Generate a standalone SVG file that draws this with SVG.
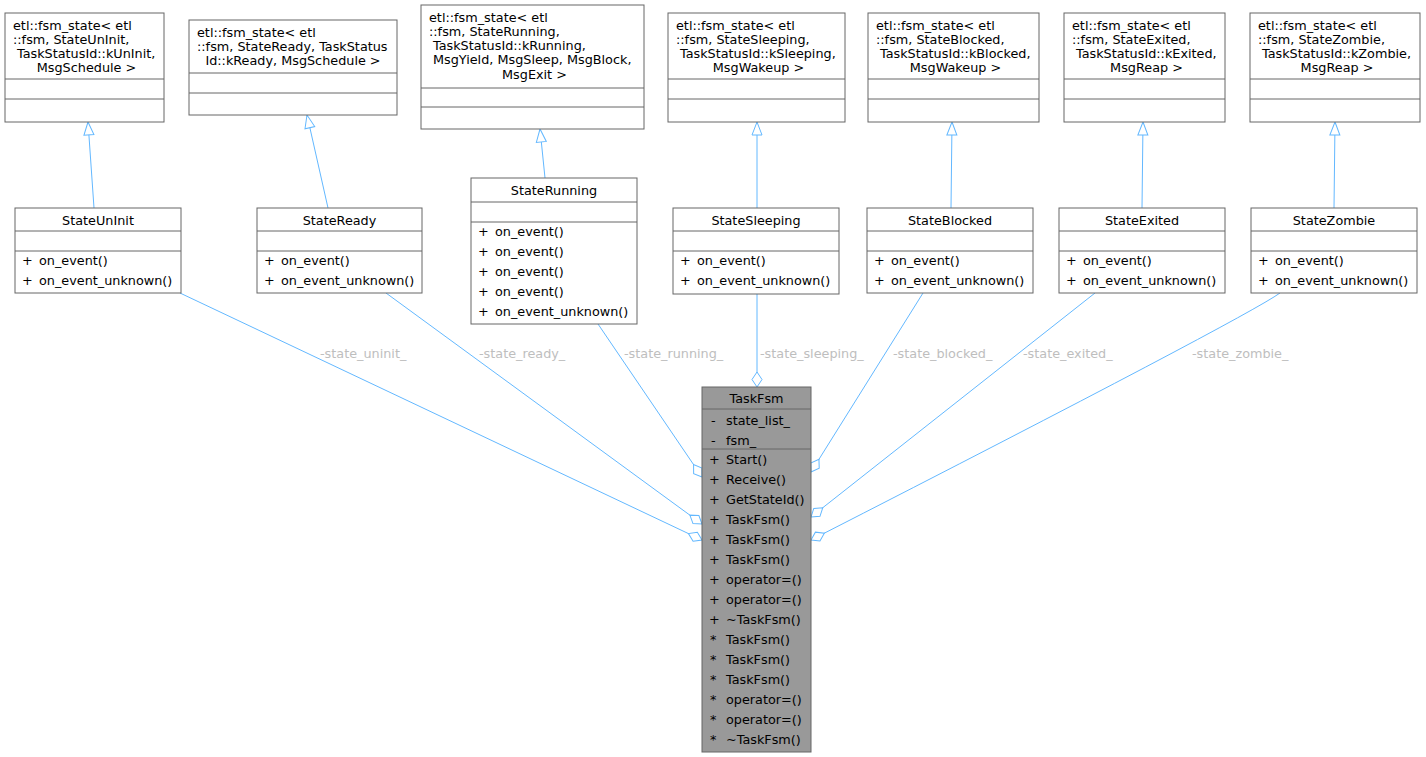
<svg xmlns="http://www.w3.org/2000/svg" width="1426" height="757" viewBox="0 0 1426 757">
<style>
text{font-family:"DejaVu Sans","Liberation Sans",sans-serif;font-size:12.8px;fill:#000}
.box{fill:#fff;stroke:#666;stroke-width:1}
.main{fill:#999;stroke:#666;stroke-width:1}
.sep{stroke:#666;stroke-width:1}
.c{text-anchor:middle}
.edge{fill:none;stroke:#63B8FF;stroke-width:1}
.inh{marker-end:url(#tri)}
.agg{marker-end:url(#dia)}
.lbl{fill:#BEBEBE}
</style>
<defs>
<marker id="tri" markerUnits="userSpaceOnUse" viewBox="-14 -6 15 12" markerWidth="15" markerHeight="12" refX="0" refY="0" orient="auto" overflow="visible">
<path d="M0,0 L-13,-5 L-13,5 Z" fill="#fff" stroke="#63B8FF" stroke-width="1"/>
</marker>
<marker id="dia" markerUnits="userSpaceOnUse" viewBox="-16 -6 17 12" markerWidth="17" markerHeight="12" refX="0" refY="0" orient="auto" overflow="visible">
<path d="M0,0 L-7.5,-5 L-15,0 L-7.5,5 Z" fill="#fff" stroke="#63B8FF" stroke-width="1"/>
</marker>
</defs>
<rect width="1426" height="757" fill="#fff"/>

<g id="connectors">
<path class="edge inh" d="M94,208 L88,122"/>
<path class="edge inh" d="M328,208 L307,115"/>
<path class="edge inh" d="M545,178 L540,129"/>
<path class="edge inh" d="M757,208 L757,122"/>
<path class="edge inh" d="M951,208 L952,122"/>
<path class="edge inh" d="M1142,208 L1143,122"/>
<path class="edge inh" d="M1334,208 L1335,122"/>
<path class="edge agg" d="M180,293 L702,540"/>
<path class="edge agg" d="M386,293 L702,524"/>
<path class="edge agg" d="M598,324 L702,477"/>
<path class="edge agg" d="M757,294 L757,387"/>
<path class="edge agg" d="M923,293 L811,472"/>
<path class="edge agg" d="M1095,293 L811,517"/>
<path class="edge agg" d="M1280,293 Q1245,318 811,540"/>
<text class="lbl" x="320" y="358">-state_uninit_</text>
<text class="lbl" x="479" y="358">-state_ready_</text>
<text class="lbl" x="624" y="358">-state_running_</text>
<text class="lbl" x="760" y="358">-state_sleeping_</text>
<text class="lbl" x="893" y="358">-state_blocked_</text>
<text class="lbl" x="1023" y="358">-state_exited_</text>
<text class="lbl" x="1192" y="358">-state_zombie_</text>
</g>

<g id="base_uninit">
<rect class="box" x="5" y="13" width="159" height="109"/>
<line class="sep" x1="5" y1="79" x2="164" y2="79"/>
<line class="sep" x1="5" y1="99" x2="164" y2="99"/>
<text x="13" y="29.5">etl::fsm_state&lt; etl</text>
<text x="13" y="43.8">::fsm, StateUnInit,</text>
<text x="17" y="58">TaskStatusId::kUnInit,</text>
<text class="c" x="86.5" y="72.3">MsgSchedule &gt;</text>
</g>

<g id="base_ready">
<rect class="box" x="189" y="20" width="208" height="95"/>
<line class="sep" x1="189" y1="73" x2="397" y2="73"/>
<line class="sep" x1="189" y1="93" x2="397" y2="93"/>
<text x="197" y="36.5">etl::fsm_state&lt; etl</text>
<text x="197" y="50.8">::fsm, StateReady, TaskStatus</text>
<text class="c" x="293" y="65">Id::kReady, MsgSchedule &gt;</text>
</g>

<g id="base_running">
<rect class="box" x="421" y="5" width="223" height="124"/>
<line class="sep" x1="421" y1="88" x2="644" y2="88"/>
<line class="sep" x1="421" y1="107" x2="644" y2="107"/>
<text x="429" y="21.5">etl::fsm_state&lt; etl</text>
<text x="429" y="35.8">::fsm, StateRunning,</text>
<text x="433" y="50">TaskStatusId::kRunning,</text>
<text x="433" y="64.3">MsgYield, MsgSleep, MsgBlock,</text>
<text class="c" x="534.5" y="78.6">MsgExit &gt;</text>
</g>

<g id="base_sleeping">
<rect class="box" x="668" y="13" width="177" height="109"/>
<line class="sep" x1="668" y1="79" x2="845" y2="79"/>
<line class="sep" x1="668" y1="99" x2="845" y2="99"/>
<text x="676" y="29.5">etl::fsm_state&lt; etl</text>
<text x="676" y="43.8">::fsm, StateSleeping,</text>
<text x="680" y="58">TaskStatusId::kSleeping,</text>
<text class="c" x="758.5" y="72.3">MsgWakeup &gt;</text>
</g>

<g id="base_blocked">
<rect class="box" x="868" y="13" width="171" height="109"/>
<line class="sep" x1="868" y1="79" x2="1039" y2="79"/>
<line class="sep" x1="868" y1="99" x2="1039" y2="99"/>
<text x="876" y="29.5">etl::fsm_state&lt; etl</text>
<text x="876" y="43.8">::fsm, StateBlocked,</text>
<text x="880" y="58">TaskStatusId::kBlocked,</text>
<text class="c" x="955.5" y="72.3">MsgWakeup &gt;</text>
</g>

<g id="base_exited">
<rect class="box" x="1064" y="13" width="161" height="109"/>
<line class="sep" x1="1064" y1="79" x2="1225" y2="79"/>
<line class="sep" x1="1064" y1="99" x2="1225" y2="99"/>
<text x="1072" y="29.5">etl::fsm_state&lt; etl</text>
<text x="1072" y="43.8">::fsm, StateExited,</text>
<text x="1076" y="58">TaskStatusId::kExited,</text>
<text class="c" x="1146.5" y="72.3">MsgReap &gt;</text>
</g>

<g id="base_zombie">
<rect class="box" x="1250" y="13" width="170" height="109"/>
<line class="sep" x1="1250" y1="79" x2="1420" y2="79"/>
<line class="sep" x1="1250" y1="99" x2="1420" y2="99"/>
<text x="1258" y="29.5">etl::fsm_state&lt; etl</text>
<text x="1258" y="43.8">::fsm, StateZombie,</text>
<text x="1262" y="58">TaskStatusId::kZombie,</text>
<text class="c" x="1337" y="72.3">MsgReap &gt;</text>
</g>

<g id="StateUnInit">
<rect class="box" x="15" y="208" width="166" height="85"/>
<line class="sep" x1="15" y1="231" x2="181" y2="231"/>
<line class="sep" x1="15" y1="251" x2="181" y2="251"/>
<text class="c" x="98" y="225">StateUnInit</text>
<text x="22" y="265">+</text><text x="39" y="265">on_event()</text>
<text x="22" y="285">+</text><text x="39" y="285">on_event_unknown()</text>
</g>

<g id="StateReady">
<rect class="box" x="257" y="208" width="165" height="85"/>
<line class="sep" x1="257" y1="231" x2="422" y2="231"/>
<line class="sep" x1="257" y1="251" x2="422" y2="251"/>
<text class="c" x="339.5" y="225">StateReady</text>
<text x="264" y="265">+</text><text x="281" y="265">on_event()</text>
<text x="264" y="285">+</text><text x="281" y="285">on_event_unknown()</text>
</g>

<g id="StateRunning">
<rect class="box" x="471" y="178" width="166" height="146"/>
<line class="sep" x1="471" y1="202" x2="637" y2="202"/>
<line class="sep" x1="471" y1="222" x2="637" y2="222"/>
<text class="c" x="554" y="195">StateRunning</text>
<text x="478" y="236">+</text><text x="495" y="236">on_event()</text>
<text x="478" y="256">+</text><text x="495" y="256">on_event()</text>
<text x="478" y="276">+</text><text x="495" y="276">on_event()</text>
<text x="478" y="296">+</text><text x="495" y="296">on_event()</text>
<text x="478" y="316">+</text><text x="495" y="316">on_event_unknown()</text>
</g>

<g id="StateSleeping">
<rect class="box" x="673" y="208" width="166" height="86"/>
<line class="sep" x1="673" y1="231" x2="839" y2="231"/>
<line class="sep" x1="673" y1="251" x2="839" y2="251"/>
<text class="c" x="756" y="225">StateSleeping</text>
<text x="680" y="265">+</text><text x="697" y="265">on_event()</text>
<text x="680" y="285">+</text><text x="697" y="285">on_event_unknown()</text>
</g>

<g id="StateBlocked">
<rect class="box" x="867" y="208" width="166" height="85"/>
<line class="sep" x1="867" y1="231" x2="1033" y2="231"/>
<line class="sep" x1="867" y1="251" x2="1033" y2="251"/>
<text class="c" x="950" y="225">StateBlocked</text>
<text x="874" y="265">+</text><text x="891" y="265">on_event()</text>
<text x="874" y="285">+</text><text x="891" y="285">on_event_unknown()</text>
</g>

<g id="StateExited">
<rect class="box" x="1059" y="208" width="166" height="85"/>
<line class="sep" x1="1059" y1="231" x2="1225" y2="231"/>
<line class="sep" x1="1059" y1="251" x2="1225" y2="251"/>
<text class="c" x="1142" y="225">StateExited</text>
<text x="1066" y="265">+</text><text x="1083" y="265">on_event()</text>
<text x="1066" y="285">+</text><text x="1083" y="285">on_event_unknown()</text>
</g>

<g id="StateZombie">
<rect class="box" x="1251" y="208" width="166" height="85"/>
<line class="sep" x1="1251" y1="231" x2="1417" y2="231"/>
<line class="sep" x1="1251" y1="251" x2="1417" y2="251"/>
<text class="c" x="1334" y="225">StateZombie</text>
<text x="1258" y="265">+</text><text x="1275" y="265">on_event()</text>
<text x="1258" y="285">+</text><text x="1275" y="285">on_event_unknown()</text>
</g>

<g id="TaskFsm">
<rect class="main" x="702" y="387" width="109" height="365"/>
<line class="sep" x1="702" y1="409" x2="811" y2="409"/>
<line class="sep" x1="702" y1="449" x2="811" y2="449"/>
<text class="c" x="756.5" y="402.5">TaskFsm</text>
<text x="711" y="424.5">-</text><text x="726" y="424.5">state_list_</text>
<text x="711" y="444.5">-</text><text x="726" y="444.5">fsm_</text>
<text x="709" y="463.5">+</text><text x="726" y="463.5">Start()</text>
<text x="709" y="483.5">+</text><text x="726" y="483.5">Receive()</text>
<text x="709" y="503.5">+</text><text x="726" y="503.5">GetStateId()</text>
<text x="709" y="523.5">+</text><text x="726" y="523.5">TaskFsm()</text>
<text x="709" y="543.5">+</text><text x="726" y="543.5">TaskFsm()</text>
<text x="709" y="563.5">+</text><text x="726" y="563.5">TaskFsm()</text>
<text x="709" y="583.5">+</text><text x="726" y="583.5">operator=()</text>
<text x="709" y="603.5">+</text><text x="726" y="603.5">operator=()</text>
<text x="709" y="623.5">+</text><text x="726" y="623.5">~TaskFsm()</text>
<text x="710" y="643.5">*</text><text x="726" y="643.5">TaskFsm()</text>
<text x="710" y="663.5">*</text><text x="726" y="663.5">TaskFsm()</text>
<text x="710" y="683.5">*</text><text x="726" y="683.5">TaskFsm()</text>
<text x="710" y="703.5">*</text><text x="726" y="703.5">operator=()</text>
<text x="710" y="723.5">*</text><text x="726" y="723.5">operator=()</text>
<text x="710" y="743.5">*</text><text x="726" y="743.5">~TaskFsm()</text>
</g>
</svg>
